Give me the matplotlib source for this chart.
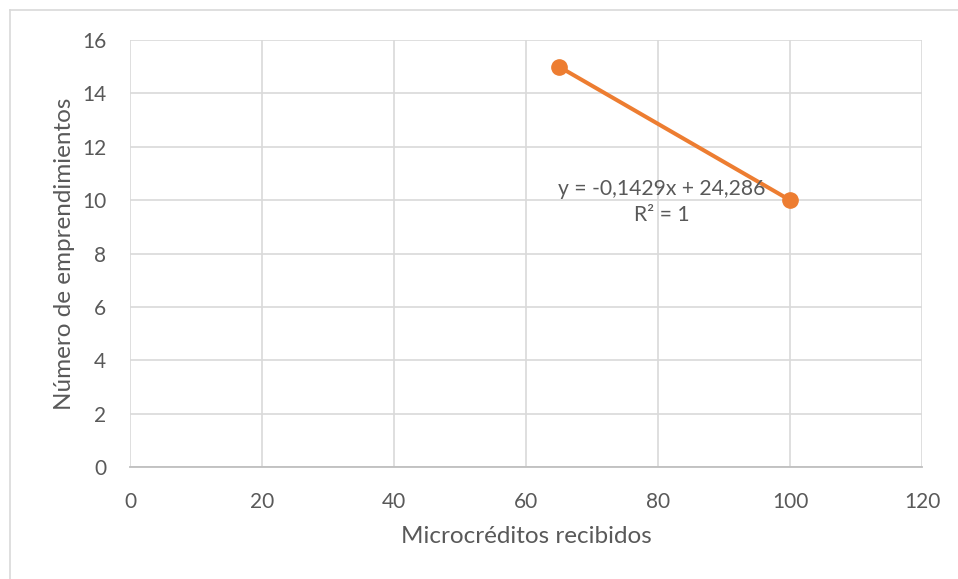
import numpy as np
import matplotlib.pyplot as plt
from matplotlib.lines import Line2D

# datos: microcréditos vs. emprendimientos
microcreditos = [65, 100]
emprendimientos = [15, 10]

x_ticks = [0, 20, 40, 60, 80, 100, 120]
y_ticks = [0, 2, 4, 6, 8, 10, 12, 14, 16]

naranja = '#ED7D31'
gris_texto = '#595959'
gris_rejilla = '#D9D9D9'

plt.rcParams['font.family'] = ['Lato', 'DejaVu Sans']

fig = plt.figure(figsize=(9.58, 5.79), dpi=100)
ax = fig.add_axes([130 / 958, 1 - 467 / 579, 792 / 958, 427 / 579])

# línea de tendencia lineal
pend, inter = np.polyfit(microcreditos, emprendimientos, 1)
xs = np.array([min(microcreditos), max(microcreditos)])
ax.plot(xs, pend * xs + inter, color=naranja, lw=2.9, zorder=3)
ax.plot(microcreditos, emprendimientos, 'o', color=naranja, ms=11, zorder=4)

ax.set_xlim(0, 120)
ax.set_ylim(0, 16)
ax.set_xticks(x_ticks)
ax.set_yticks(y_ticks)
ax.grid(True, color=gris_rejilla, lw=1.2)
ax.set_axisbelow(True)
for lado in ['left', 'right', 'top']:
    ax.spines[lado].set_visible(False)
ax.spines['bottom'].set_color('#BFBFBF')
ax.spines['bottom'].set_linewidth(1.3)
ax.tick_params(length=0, labelsize=15, colors=gris_texto)
ax.tick_params(axis='x', pad=18)
ax.tick_params(axis='y', pad=17)

ax.set_xlabel('Microcréditos recibidos', fontsize=17.5, color=gris_texto)
ax.set_ylabel('Número de emprendimientos', fontsize=17.5, color=gris_texto)
ax.xaxis.set_label_coords(0.5, -0.138)
ax.yaxis.set_label_coords(-0.069, 0.5)

r2 = np.corrcoef(microcreditos, emprendimientos)[0, 1] ** 2
ecuacion = f'y = {pend:.4f}x + {inter:.3f}'.replace('.', ',')
ax.text(80.6, 10.42, ecuacion, ha='center', va='center', fontsize=15.2, color=gris_texto)
ax.text(80.6, 9.44, f'R² = {r2:.0f}', ha='center', va='center', fontsize=15.2, color=gris_texto)

# borde del área del gráfico
fig.add_artist(Line2D([10 / 958, 1], [1 - 10 / 579] * 2, color='#D9D9D9', lw=1.2))
fig.add_artist(Line2D([10 / 958] * 2, [0, 1 - 10 / 579], color='#D9D9D9', lw=1.2))

fig.savefig('out.png', dpi=100)
